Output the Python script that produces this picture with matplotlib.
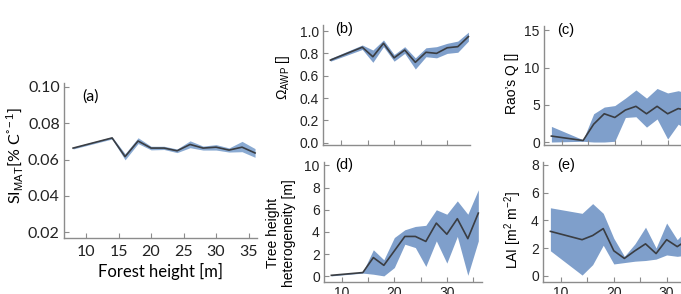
import matplotlib
matplotlib.use("Agg")
import matplotlib.pyplot as plt
import numpy as np

# forest height bins (m)
height = [8, 14, 16, 18, 20, 22, 24, 26, 28, 30, 32, 34, 36]

# (a) sensitivity to MAT
si_mean = [0.0663, 0.0719, 0.0616, 0.0702, 0.0663, 0.0663, 0.0648, 0.0683, 0.0663, 0.0668, 0.0652, 0.0668, 0.0636]
si_low = [0.0658, 0.0713, 0.0598, 0.0688, 0.0653, 0.0655, 0.0638, 0.0665, 0.0652, 0.0652, 0.0641, 0.0643, 0.0612]
si_high = [0.0668, 0.0725, 0.0632, 0.0720, 0.0673, 0.0673, 0.0658, 0.0703, 0.0674, 0.0682, 0.0664, 0.0700, 0.0660]

# (b) Omega AWP (no value in the last bin)
om_mean = [0.74, 0.855, 0.77, 0.89, 0.76, 0.83, 0.72, 0.81, 0.80, 0.85, 0.86, 0.95]
om_low = [0.73, 0.835, 0.72, 0.86, 0.73, 0.80, 0.66, 0.77, 0.76, 0.80, 0.81, 0.91]
om_high = [0.755, 0.875, 0.83, 0.92, 0.79, 0.86, 0.76, 0.85, 0.86, 0.89, 0.91, 0.99]

# (c) Rao's Q
rao_mean = [0.8, 0.2, 2.4, 3.8, 3.3, 4.3, 4.8, 3.8, 4.8, 3.8, 4.5, 4.2]
rao_low = [0.0, 0.1, 0.0, 0.0, 0.1, 3.3, 3.4, 2.0, 3.1, 0.4, 2.4, 1.5]
rao_high = [2.1, 0.3, 3.8, 4.7, 4.9, 5.9, 7.0, 5.9, 7.2, 6.6, 6.9, 6.5]

# (d) tree height heterogeneity
thh_mean = [0.1, 0.35, 1.7, 1.0, 2.3, 3.6, 3.6, 3.15, 4.8, 3.8, 5.2, 3.4, 5.7]
thh_low = [0.05, 0.3, 0.2, 0.05, 0.8, 2.9, 2.6, 0.9, 3.2, 1.2, 3.6, 0.1, 3.2]
thh_high = [0.15, 0.4, 2.4, 1.5, 3.5, 4.2, 4.5, 4.6, 6.0, 5.6, 6.8, 5.6, 7.8]

# (e) LAI
lai_mean = [3.2, 2.6, 2.9, 3.4, 1.8, 1.25, 1.8, 2.3, 1.6, 2.6, 2.1, 2.6]
lai_low = [1.8, 0.05, 0.8, 2.2, 0.85, 0.95, 1.05, 1.1, 1.2, 1.5, 1.4, 1.5]
lai_high = [4.9, 4.5, 5.2, 4.5, 2.7, 1.4, 2.3, 3.5, 2.0, 3.8, 2.6, 3.4]

band_col = '#7f9fcb'
line_col = '#3a3d42'
spine_col = '#8c8c8c'
sans = 'Liberation Sans'

plt.rcParams['mathtext.fontset'] = 'custom'
plt.rcParams['mathtext.rm'] = sans
plt.rcParams['mathtext.it'] = sans + ':italic'

W, H = 681, 294
fig = plt.figure(figsize=(W / 100, H / 100), dpi=100)


def px_axes(l, t, r, b):
    return fig.add_axes([l / W, 1 - b / H, (r - l) / W, (b - t) / H])


def style(ax, family, size):
    for s in ['top', 'right']:
        ax.spines[s].set_visible(False)
    for s in ['left', 'bottom']:
        ax.spines[s].set_color(spine_col)
        ax.spines[s].set_linewidth(1.0)
    ax.tick_params(direction='in', length=3.5, width=0.8, color=spine_col,
                   labelsize=size, labelcolor='#222222', pad=3,
                   labelfontfamily=family)


def draw(ax, x, m, lo, hi, col=band_col):
    ax.fill_between(x, lo, hi, color=col, lw=0)
    ax.plot(x, m, color=line_col, lw=1.2)


# (a)
axa = px_axes(64, 83, 257, 238)
draw(axa, height, si_mean, si_low, si_high, col='#8aaad2')
axa.set_xlim(6.6, 36.3)
axa.set_ylim(0.0167, 0.1022)
axa.set_xticks([10, 15, 20, 25, 30, 35])
axa.set_yticks([0.02, 0.04, 0.06, 0.08, 0.10])
axa.set_yticklabels(['0.02', '0.04', '0.06', '0.08', '0.10'])
style(axa, 'Lato', 11.5)
axa.tick_params(axis='x', pad=5)
axa.set_xlabel('Forest height [m]', family='Lato', fontsize=12, labelpad=3)
axa.set_ylabel(r'SI$_{\mathrm{MAT}}$[% C$^{\mathrm{°-1}}$]', family='Lato', fontsize=11.5, va='center')
axa.yaxis.set_label_coords(-0.254, 0.535)
axa.text(0.135, 0.91, '(a)', transform=axa.transAxes, family='Lato', fontsize=11.5,
         ha='center', va='center')

# (b)
axb = px_axes(323, 25, 470, 145)
draw(axb, height[:len(om_mean)], om_mean, om_low, om_high)
axb.set_xlim(6.6, 34.3)
axb.set_ylim(-0.02, 1.054)
axb.set_xticks([10, 15, 20, 25, 30])
axb.set_xticklabels([])
axb.set_yticks([0, 0.2, 0.4, 0.6, 0.8, 1.0])
axb.set_yticklabels(['0.0', '0.2', '0.4', '0.6', '0.8', '1.0'])
style(axb, sans, 10)
axb.set_ylabel(r'$\Omega_{\mathrm{AWP}}$ []', family=sans, fontsize=10, va='center')
axb.yaxis.set_label_coords(-0.27, 0.567)
axb.text(0.14, 0.965, '(b)', transform=axb.transAxes, family=sans, fontsize=10.5,
         ha='center', va='center')

# (c)
axc = px_axes(544, 26, 702, 145)
draw(axc, height[:len(rao_mean)], rao_mean, rao_low, rao_high)
axc.set_xlim(6.6, 36.5)
axc.set_ylim(-0.4, 15.6)
axc.set_xticks([10, 15, 20, 25, 30, 35])
axc.set_xticklabels([])
axc.set_yticks([0, 5, 10, 15])
style(axc, sans, 10)
axc.set_ylabel('Rao\u2019s Q []', family=sans, fontsize=10, va='center')
axc.yaxis.set_label_coords(-0.2, 0.52)
axc.text(0.14, 0.965, '(c)', transform=axc.transAxes, family=sans, fontsize=10.5,
         ha='center', va='center')

# (d)
axd = px_axes(324, 162, 482, 282)
draw(axd, height, thh_mean, thh_low, thh_high)
axd.set_xlim(6.6, 36.7)
axd.set_ylim(-0.5, 10.3)
axd.set_xticks([10, 15, 20, 25, 30, 35])
axd.set_xticklabels(['10', '', '20', '', '30', ''])
axd.set_yticks([0, 2, 4, 6, 8, 10])
style(axd, sans, 10)
axd.set_ylabel('Tree height\nheterogeneity [m]', family=sans, fontsize=10,
               va='center', linespacing=1.2)
axd.yaxis.set_label_coords(-0.27, 0.41)
axd.text(0.13, 0.975, '(d)', transform=axd.transAxes, family=sans, fontsize=10.5,
         ha='center', va='center')

# (e)
axe = px_axes(543, 162, 701, 282)
draw(axe, height[:len(lai_mean)], lai_mean, lai_low, lai_high)
axe.set_xlim(6.6, 36.5)
axe.set_ylim(-0.45, 8.2)
axe.set_xticks([10, 15, 20, 25, 30, 35])
axe.set_xticklabels(['10', '', '20', '', '30', ''])
axe.set_yticks([0, 2, 4, 6, 8])
style(axe, sans, 10)
axe.set_ylabel(r'LAI [m$^{2}$ m$^{-2}$]', family=sans, fontsize=10, va='center')
axe.yaxis.set_label_coords(-0.19, 0.43)
axe.text(0.145, 0.975, '(e)', transform=axe.transAxes, family=sans, fontsize=10.5,
         ha='center', va='center')

fig.savefig('out.png', dpi=100)
